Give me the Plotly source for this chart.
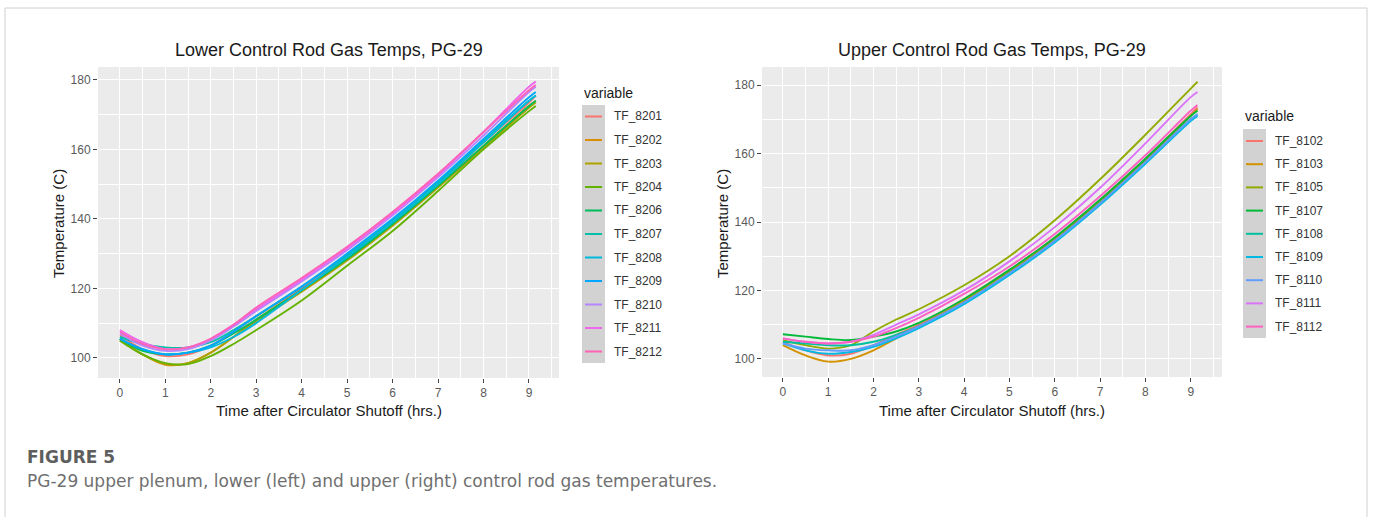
import plotly.graph_objects as go

W, H = 1373, 517

# ---------------- data ----------------
hours = [0, 0.5, 1, 1.5, 2, 2.5, 3, 4, 5, 6, 7, 8, 9, 9.15]

lower_names = ["TF_8201", "TF_8202", "TF_8203", "TF_8204", "TF_8206", "TF_8207",
               "TF_8208", "TF_8209", "TF_8210", "TF_8211", "TF_8212"]
lower_colors = ["#F8766D", "#DB8E00", "#AEA200", "#64B200", "#00BD5C", "#00C1A7",
                "#00BADE", "#00A6FF", "#B385FF", "#EF67EB", "#FF63B6"]
tf_8201 = [106.5, 102.5, 100.5, 101.0, 103.5, 107.5, 112.0, 120.0, 129.0, 139.0, 150.0, 162.0, 173.5, 175.5]
tf_8202 = [105.5, 101.0, 98.0, 98.5, 101.5, 106.0, 111.0, 119.5, 128.5, 138.5, 149.5, 161.0, 172.5, 174.0]
tf_8203 = [105.0, 101.0, 98.3, 98.5, 101.5, 106.0, 110.5, 119.0, 128.0, 138.0, 149.0, 160.5, 172.0, 173.5]
tf_8204 = [105.0, 101.0, 98.5, 98.2, 100.5, 104.0, 108.0, 116.5, 126.5, 136.5, 148.0, 160.0, 171.0, 172.5]
tf_8206 = [105.5, 102.0, 101.0, 101.5, 103.5, 107.0, 111.0, 119.5, 128.5, 138.5, 149.5, 161.0, 172.5, 174.0]
tf_8207 = [106.0, 104.0, 103.0, 103.0, 104.5, 108.0, 112.0, 120.5, 129.5, 139.5, 150.5, 162.5, 174.0, 175.5]
tf_8208 = [105.5, 102.5, 101.0, 101.5, 103.0, 106.0, 110.0, 119.5, 129.0, 139.0, 150.0, 162.0, 174.0, 175.5]
tf_8209 = [105.5, 102.5, 101.0, 101.5, 103.5, 107.5, 112.0, 120.5, 130.0, 140.0, 151.0, 163.0, 175.0, 176.5]
tf_8210 = [107.0, 103.5, 102.0, 102.5, 105.0, 109.0, 113.5, 122.0, 131.0, 141.0, 152.0, 164.0, 176.5, 178.0]
tf_8211 = [108.0, 104.5, 102.5, 103.0, 105.5, 109.5, 114.0, 122.5, 131.5, 141.5, 152.5, 165.0, 178.0, 179.5]
tf_8212 = [107.5, 104.0, 102.5, 103.0, 105.5, 109.5, 114.5, 123.0, 132.0, 142.0, 153.0, 165.0, 177.0, 178.5]
lower_values = [tf_8201, tf_8202, tf_8203, tf_8204, tf_8206, tf_8207,
                tf_8208, tf_8209, tf_8210, tf_8211, tf_8212]

upper_names = ["TF_8102", "TF_8103", "TF_8105", "TF_8107", "TF_8108",
               "TF_8109", "TF_8110", "TF_8111", "TF_8112"]
upper_colors = ["#F8766D", "#D39200", "#93AA00", "#00BA38", "#00C19F",
                "#00B9E3", "#619CFF", "#DB72FB", "#FF61C3"]
tf_8102 = [105.0, 102.5, 101.0, 101.5, 104.0, 107.0, 110.0, 117.5, 126.0, 135.5, 146.5, 158.5, 171.5, 173.5]
tf_8103 = [104.0, 101.0, 99.2, 100.0, 102.5, 106.0, 109.5, 117.0, 125.5, 135.0, 146.0, 158.0, 171.0, 173.0]
tf_8105 = [105.5, 104.0, 103.0, 104.0, 108.0, 111.5, 114.5, 121.5, 130.0, 140.5, 152.5, 165.5, 179.0, 181.0]
tf_8107 = [107.2, 106.5, 105.8, 105.5, 106.5, 108.0, 110.5, 117.5, 126.0, 135.5, 146.5, 158.5, 171.0, 172.5]
tf_8108 = [105.0, 104.5, 104.0, 104.0, 105.0, 107.0, 109.5, 116.5, 125.0, 134.5, 145.5, 157.5, 170.0, 171.5]
tf_8109 = [104.5, 102.5, 101.5, 102.0, 103.5, 106.0, 109.0, 116.0, 124.5, 134.0, 145.0, 157.0, 169.5, 171.0]
tf_8110 = [104.5, 103.0, 102.5, 102.5, 104.0, 106.5, 109.5, 116.5, 125.0, 134.5, 145.5, 157.5, 170.0, 171.5]
tf_8111 = [106.0, 105.0, 104.5, 105.0, 107.0, 110.0, 113.0, 120.0, 128.5, 138.5, 150.0, 163.0, 176.5, 178.0]
tf_8112 = [106.0, 105.0, 104.5, 105.0, 106.5, 109.0, 112.0, 119.0, 127.0, 136.5, 147.5, 159.5, 172.5, 174.2]
upper_values = [tf_8102, tf_8103, tf_8105, tf_8107, tf_8108,
                tf_8109, tf_8110, tf_8111, tf_8112]

x_ticks = list(range(0, 10))
y_ticks = [100, 120, 140, 160, 180]

titles = ["Lower Control Rod Gas Temps, PG-29", "Upper Control Rod Gas Temps, PG-29"]
x_title = "Time after Circulator Shutoff (hrs.)"
y_title = "Temperature (C)"
legend_title = "variable"
fig_label = "FIGURE 5"
caption = "PG-29 upper plenum, lower (left) and upper (right) control rod gas temperatures."

# ---------------- helpers ----------------
def px(x):
    return x / W

def py(y):
    return 1 - y / H

fig = go.Figure()

for name, col, vals in zip(lower_names, lower_colors, lower_values):
    fig.add_trace(go.Scatter(x=hours, y=vals, mode="lines", name=name,
                             line=dict(color=col, width=1.9, shape="spline", smoothing=1.0),
                             xaxis="x", yaxis="y", showlegend=False))
for name, col, vals in zip(upper_names, upper_colors, upper_values):
    fig.add_trace(go.Scatter(x=hours, y=vals, mode="lines", name=name,
                             line=dict(color=col, width=1.9, shape="spline", smoothing=1.0),
                             xaxis="x2", yaxis="y2", showlegend=False))

ARIAL = "Liberation Sans, Arial, sans-serif"
tickfont = dict(family=ARIAL, size=12, color="#5A5A5A")
common_x = dict(tickmode="array", tickvals=x_ticks, ticks="outside", ticklen=4, tickwidth=1,
                tickcolor="#444444", showgrid=True, gridcolor="white", gridwidth=1.2,
                zeroline=False, showline=False, tickfont=tickfont,
                minor=dict(tickmode="array", tickvals=[i + 0.5 for i in range(-1, 10)],
                           showgrid=True, gridcolor="white", gridwidth=0.6, ticks=""))
common_y = dict(tickmode="array", tickvals=y_ticks, ticks="outside", ticklen=4, tickwidth=1,
                tickcolor="#444444", showgrid=True, gridcolor="white", gridwidth=1.2,
                zeroline=False, showline=False, tickfont=tickfont,
                minor=dict(tickmode="array", tickvals=[90, 110, 130, 150, 170, 190],
                           showgrid=True, gridcolor="white", gridwidth=0.6, ticks=""))

fig.update_layout(
    width=W, height=H, margin=dict(l=0, r=0, t=0, b=0),
    paper_bgcolor="white", plot_bgcolor="#EBEBEB",
    xaxis=dict(domain=[px(98), px(559)], range=[-0.48, 9.66], anchor="y", **common_x),
    yaxis=dict(domain=[py(378), py(67)], range=[94.2, 183.7], anchor="x", **common_y),
    xaxis2=dict(domain=[px(762), px(1222)], range=[-0.46, 9.69], anchor="y2", **common_x),
    yaxis2=dict(domain=[py(377), py(67)], range=[94.7, 185.3], anchor="x2", **common_y),
)

shapes = []
annotations = []

# outer frame
shapes.append(dict(type="rect", xref="paper", yref="paper", x0=px(5), x1=px(1367),
                   y0=py(540), y1=py(8), line=dict(color="#D0D0D0", width=1),
                   fillcolor="rgba(0,0,0,0)", layer="below"))

title_font = dict(family=ARIAL, size=18, color="#1A1A1A")
axis_font = dict(family=ARIAL, size=15, color="#1A1A1A")

panels = [
    dict(cx=(98 + 559) / 2, ylab_x=58, title=titles[0]),
    dict(cx=(762 + 1222) / 2, ylab_x=722, title=titles[1]),
]
for p in panels:
    annotations.append(dict(text=p["title"], x=px(p["cx"]), y=py(50), xref="paper", yref="paper",
                            xanchor="center", yanchor="middle", showarrow=False, font=title_font))
    annotations.append(dict(text=x_title, x=px(p["cx"]), y=py(410), xref="paper", yref="paper",
                            xanchor="center", yanchor="middle", showarrow=False, font=axis_font))
    annotations.append(dict(text=y_title, x=px(p["ylab_x"]), y=py(224), xref="paper", yref="paper",
                            xanchor="center", yanchor="middle", showarrow=False, font=axis_font,
                            textangle=-90))

# manual ggplot-style legends
leg_font = dict(family=ARIAL, size=12, color="#333333")
legends = [
    dict(names=lower_names, colors=lower_colors, x0=582, x1=605, y_title=93,
         y_first=116.5, step=23.5, box_top=105, box_bot=363, text_x=612),
    dict(names=upper_names, colors=upper_colors, x0=1243, x1=1266, y_title=116,
         y_first=141, step=23.2, box_top=129, box_bot=338, text_x=1273),
]
for lg in legends:
    annotations.append(dict(text=legend_title, x=px(lg["x0"]), y=py(lg["y_title"]), xref="paper",
                            yref="paper", xanchor="left", yanchor="middle", showarrow=False,
                            font=dict(family=ARIAL, size=14, color="#1A1A1A")))
    shapes.append(dict(type="rect", xref="paper", yref="paper", x0=px(lg["x0"]), x1=px(lg["x1"]),
                       y0=py(lg["box_bot"]), y1=py(lg["box_top"]), line=dict(width=0),
                       fillcolor="#D2D2D2"))
    for i, (nm, col) in enumerate(zip(lg["names"], lg["colors"])):
        yy = lg["y_first"] + i * lg["step"]
        shapes.append(dict(type="line", xref="paper", yref="paper", x0=px(lg["x0"] + 3),
                           x1=px(lg["x1"] - 3), y0=py(yy), y1=py(yy),
                           line=dict(color=col, width=2)))
        annotations.append(dict(text=nm, x=px(lg["text_x"]), y=py(yy), xref="paper", yref="paper",
                                xanchor="left", yanchor="middle", showarrow=False, font=leg_font))

# caption
annotations.append(dict(text="<b>" + fig_label + "</b>", x=px(25), y=py(457), xref="paper",
                        yref="paper", xanchor="left", yanchor="middle", showarrow=False,
                        font=dict(family="DejaVu Sans, sans-serif", size=17, color="#5E5E5E")))
annotations.append(dict(text=caption, x=px(25), y=py(481), xref="paper", yref="paper",
                        xanchor="left", yanchor="middle", showarrow=False,
                        font=dict(family="DejaVu Sans, sans-serif", size=17, color="#707070")))

fig.update_layout(shapes=shapes, annotations=annotations)

fig.write_html("out.html")
